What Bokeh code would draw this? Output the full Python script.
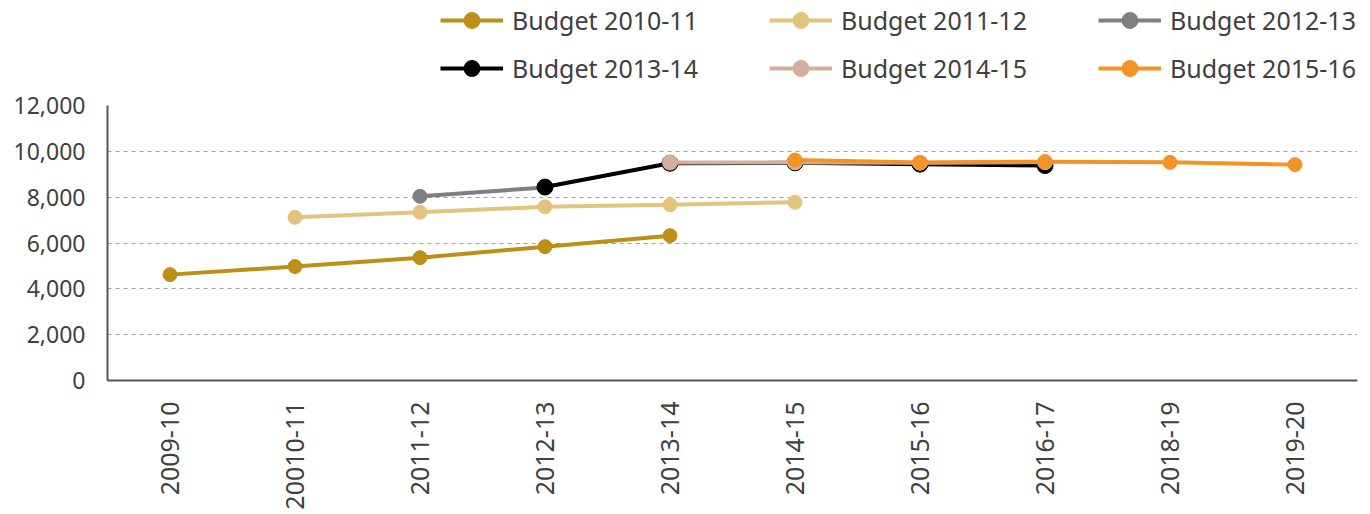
import math
from bokeh.plotting import figure
from bokeh.layouts import column
from bokeh.models import Legend, LegendItem, NumeralTickFormatter
from bokeh.embed import file_html
from bokeh.resources import INLINE

categories = ["2009-10", "20010-11", "2011-12", "2012-13", "2013-14",
              "2014-15", "2015-16", "2016-17", "2018-19", "2019-20"]

nan = float("nan")
budget_2010_11 = [4620, 4970, 5360, 5840, 6320, nan, nan, nan, nan, nan]
budget_2011_12 = [nan, 7120, 7340, 7580, 7670, 7780, nan, nan, nan, nan]
budget_2012_13 = [nan, nan, 8040, 8420, nan, nan, nan, nan, nan, nan]
budget_2013_14 = [nan, nan, nan, 8440, 9480, 9500, 9440, 9380, nan, nan]
budget_2014_15 = [nan, nan, nan, nan, 9510, 9520, 9500, 9530, nan, nan]
budget_2015_16 = [nan, nan, nan, nan, nan, 9620, 9510, 9550, 9520, 9420]

series_names = ["Budget 2010-11", "Budget 2011-12", "Budget 2012-13",
                "Budget 2013-14", "Budget 2014-15", "Budget 2015-16"]
series_values = [budget_2010_11, budget_2011_12, budget_2012_13,
                 budget_2013_14, budget_2014_15, budget_2015_16]
colors = ["#BE8E17", "#E2C47E", "#7E7F83", "#000000", "#D3AFA0", "#F39324"]
marker_sizes = [14, 14, 14, 16, 15, 14]

FONT = "Noto Sans"
TXT = "#404040"
W = 1362

# ---- legend strip (separate figure so the legend is not clipped) ----
leg = figure(width=W, height=90, x_range=categories, y_range=(100000, 200000),
             output_backend="svg", toolbar_location=None,
             min_border=0, x_axis_type=None, y_axis_type=None)
leg.outline_line_color = None
leg.grid.grid_line_color = None
items = []
for name, vals, col in zip(series_names, series_values, colors):
    ln = leg.line(categories, vals, line_color=col, line_width=4)
    sc = leg.scatter(categories, vals, size=12, fill_color=col, line_color=col)
    items.append(LegendItem(label=name, renderers=[ln, sc]))
order = [0, 3, 1, 4, 2, 5]  # column-major fill -> rows read like the reference
legend = Legend(items=[items[i] for i in order], ncols=3, location=(333, 2),
                label_text_font=FONT, label_text_font_size="25px",
                label_text_color=TXT, glyph_width=63, glyph_height=40,
                label_width=249, label_height=40,
                spacing=8, label_standoff=9, border_line_color=None,
                background_fill_alpha=0, margin=0, padding=0)
leg.add_layout(legend, "center")

# ---- main chart ----
p = figure(width=W, height=422, x_range=categories, y_range=(0, 12000),
           output_backend="svg", toolbar_location=None,
           min_border_left=107, min_border_right=5, min_border_top=15, min_border_bottom=124)
p.outline_line_color = None

for vals, col, ms in zip(series_values, colors, marker_sizes):
    p.line(categories, vals, line_color=col, line_width=4)
    p.scatter(categories, vals, size=ms, fill_color=col, line_color=col)

p.yaxis.formatter = NumeralTickFormatter(format="0,0")
p.yaxis.ticker = [0, 2000, 4000, 6000, 8000, 10000, 12000]
for ax in (p.xaxis, p.yaxis):
    ax.axis_line_color = "#555555"
    ax.axis_line_width = 2
    ax.major_tick_line_color = None
    ax.minor_tick_line_color = None
    ax.major_label_text_font = FONT
    ax.major_label_text_color = TXT
p.xaxis.major_label_text_font_size = "25px"
p.yaxis.major_label_text_font_size = "23px"
p.xaxis.major_label_orientation = math.pi / 2
p.xaxis.major_label_standoff = 15
p.yaxis.major_label_standoff = 16

p.xgrid.grid_line_color = None
p.ygrid.grid_line_color = "#A0A0A0"
p.ygrid.grid_line_dash = "4 4"
p.ygrid.grid_line_width = 1

layout = column(leg, p, spacing=0)
open("out.html", "w").write(file_html(layout, INLINE))
